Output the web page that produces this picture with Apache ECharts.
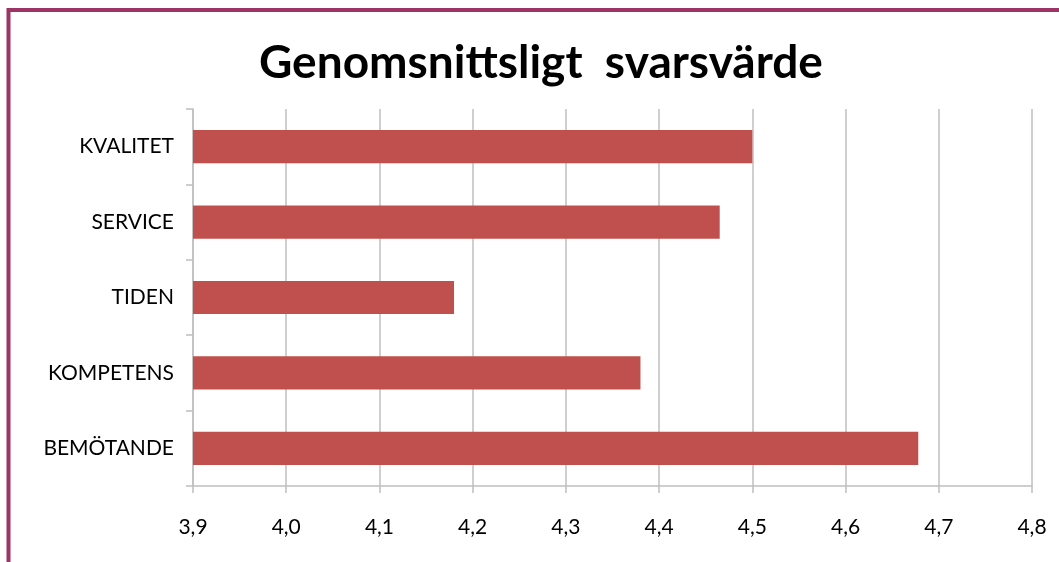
<!DOCTYPE html>
<html>
<head>
<meta charset="utf-8">
<script src="https://cdn.jsdelivr.net/npm/echarts@6/dist/echarts.min.js"></script>
<style>
html,body{margin:0;padding:0;background:#fff;}
#c{width:1059px;height:562px;}
</style>
</head>
<body>
<div id="c"></div>
<script>
var categories = ['BEMÖTANDE', 'KOMPETENS', 'TIDEN', 'SERVICE', 'KVALITET'];
var values = [4.678, 4.38, 4.18, 4.465, 4.50];
var xTicks = [3.9, 4.0, 4.1, 4.2, 4.3, 4.4, 4.5, 4.6, 4.7, 4.8];
var titleText = 'Genomsnittsligt  svarsvärde';

var chart = echarts.init(document.getElementById('c'), null, {renderer: 'canvas'});
chart.setOption({
  animation: false,
  backgroundColor: '#fff',
  title: {
    text: titleText,
    left: 254,
    top: 35,
    textStyle: {fontFamily: 'Lato', fontWeight: 'bold', fontSize: 46, color: '#000'}
  },
  graphic: [{
    type: 'rect',
    shape: {x: 8.5, y: 10, width: 1200, height: 700},
    style: {fill: null, stroke: '#9E3366', lineWidth: 4},
    z: 100
  }],
  grid: {left: 193, right: 27, top: 109, bottom: 76, containLabel: false},
  xAxis: {
    type: 'value',
    min: xTicks[0],
    max: xTicks[xTicks.length - 1],
    interval: 0.1,
    axisLine: {show: true, lineStyle: {color: '#BFBFBF', width: 1.5}},
    axisTick: {show: true, length: 7, lineStyle: {color: '#BFBFBF', width: 1.5}},
    splitLine: {show: true, lineStyle: {color: '#BFBFBF', width: 1.5}},
    axisLabel: {
      margin: 31,
      fontFamily: 'Lato', fontSize: 21, color: '#000',
      formatter: function (v) { return v.toFixed(1).replace('.', ','); }
    }
  },
  yAxis: {
    type: 'category',
    data: categories,
    axisLine: {show: true, lineStyle: {color: '#BFBFBF', width: 1.5}},
    axisTick: {show: true, length: 7, lineStyle: {color: '#BFBFBF', width: 1.5}},
    axisLabel: {margin: 19, fontFamily: 'Lato', fontSize: 21, color: '#000'}
  },
  series: [{
    type: 'bar',
    data: values,
    barCategoryGap: '56%',
    itemStyle: {color: '#C0504D'}
  }]
});
</script>
</body>
</html>
